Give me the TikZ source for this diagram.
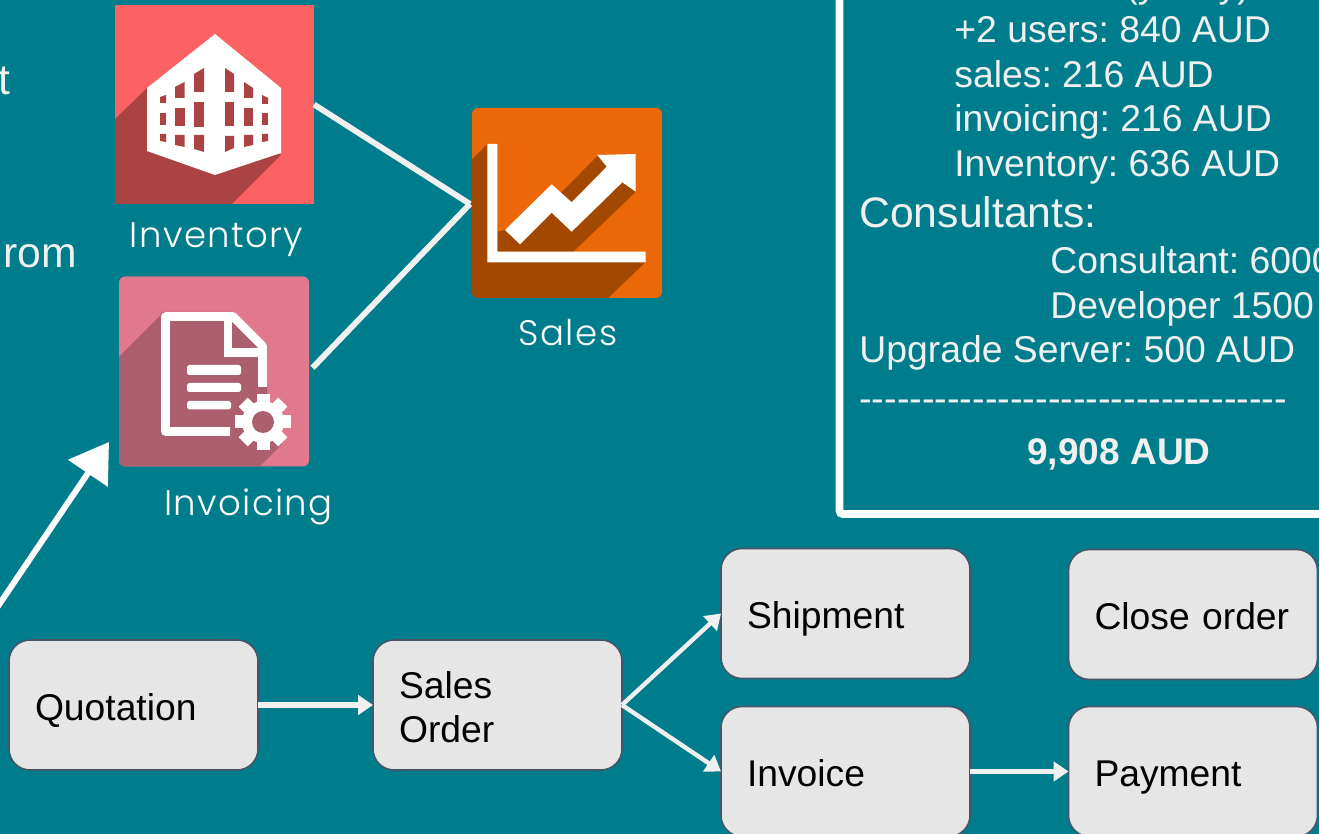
\documentclass[tikz,border=0pt]{standalone}
\usepackage{fontspec}
\usetikzlibrary{arrows.meta}
\usetikzlibrary{positioning}
\newfontfamily\arialFont{Liberation Sans}
\newfontfamily\iconFont[LetterSpace=4]{Poppins Light}
\definecolor{tealBack}{RGB}{0,125,140}
\definecolor{lineColor}{RGB}{240,240,240}
\definecolor{boxColor}{RGB}{230,230,230}
\definecolor{boxEdge}{RGB}{72,84,104}
\definecolor{inventoryColor}{RGB}{252,98,99}
\definecolor{inventoryShade}{RGB}{171,67,66}
\definecolor{invoicingColor}{RGB}{224,120,142}
\definecolor{invoicingShade}{RGB}{171,95,111}
\definecolor{salesColor}{RGB}{234,104,7}
\definecolor{salesShade}{RGB}{163,72,0}
\newcommand{\px}{0.02cm}
\tikzset{flowbox/.style = {draw=boxEdge, line width=0.9pt, fill=boxColor, rounded corners=0.42cm, inner xsep=0.52cm, inner ysep=0pt, outer sep=0pt, text width=3.94cm, minimum height=2.6cm, align=left, text height=22.3pt, text depth=4.7pt, font=\arialFont\fontsize{21.2}{25.3}\selectfont, text=black}}
\tikzset{flowarrow/.style = {draw=lineColor, line width=3pt, -{Triangle[length=8.5pt,width=11pt]}}}
\tikzset{iconline/.style = {draw=lineColor, line width=3.3pt}}
\tikzset{iconbox/.style = {inner sep=0pt, outer sep=0pt, minimum size=#1*\px}}
\tikzset{iconlabel/.style = {anchor=base, text=white, inner sep=0pt, font=\iconFont\fontsize{20.2}{24}\selectfont}}
\tikzset{paneltext/.style = {anchor=base west, inner sep=0pt, text=lineColor, font=\arialFont\fontsize{21.25}{25.3}\selectfont}}
\tikzset{bigtext/.style = {anchor=base west, inner sep=0pt, text=lineColor, font=\arialFont\fontsize{24.3}{29}\selectfont}}
\begin{document}
\frenchspacing
\begin{tikzpicture}[x=0.02cm,y=-0.02cm]
    \useasboundingbox (0,0) rectangle (1319,834);
    \clip (0,0) rectangle (1319,834);
    \fill[tealBack] (0,0) rectangle (1319,834);

    % text cut off at the left
    \node[bigtext] (leftA) at (-2,95) {t};
    \node[bigtext] (leftB) at (3,268) {rom};

    % inventory icon
    \node[iconbox=199, fill=inventoryColor] (inventory) at (214.5,104.5) {};
    \fill[inventoryShade] (147,88) -- (115,119) -- (115,204) -- (232,204) -- (281,155) -- cycle;
    \fill[white] (215,34) -- (281,88) -- (281,153) -- (215,175) -- (147,151) -- (147,88) -- cycle;
    \foreach \xa/\xb/\ya/\yb/\yc/\yd in {160/166/97/95/103/103, 160/166/113/113/125/125, 160/166/134/134/141/142,
        175/184.5/87/82/98/98, 175/184.5/108/108/126/126, 175/184.5/135/135/145/147,
        194/204/74/68/92/92, 194/204/102/102/127/127, 194/204/135/135/149/152,
        225/234/68/74/92/92, 225/234/102/102/126/126, 225/234/136/136/152/148,
        244/253/82/88/98/98, 244/253/108/108/126/126, 244/253/135/135/147/145,
        262/268/95/98/104/104, 262/268/113/113/125/125, 262/268/134/134/142/141}
        \fill[inventoryShade] (\xa,\ya) -- (\xb,\yb) -- (\xb,\yd) -- (\xa,\yc) -- cycle;
    \node[iconlabel] (inventoryLabel) at (216.5,248) {Inventory};

    % invoicing icon
    \node[iconbox=190, fill=invoicingColor, rounded corners=0.12cm] (invoicing) at (214,371.5) {};
    \begin{scope}
        \clip[rounded corners=0.12cm] (119,276.5) rectangle (309,466.5);
        \fill[invoicingShade] (161,315) -- (119,357) -- (119,467) -- (259,467) -- (282,444) -- (267,392) -- (267,346) -- (233,312) -- (161,312) -- cycle;
    \end{scope}
    \draw[white, line width=5pt, line join=round] (230,431.5) -- (165.5,431.5) -- (165.5,316.5) -- (233,316.5) -- (262.5,346) -- (262.5,387);
    \draw[white, line width=5pt] (228,316.5) -- (228,352.5) -- (262.5,352.5);
    \fill[white, rounded corners=1pt] (187,365) rectangle (241,375);
    \fill[white, rounded corners=1pt] (187,383) rectangle (241,392);
    \fill[white, rounded corners=1pt] (187,401) rectangle (231,409.5);
    \foreach \a in {0,45,...,315}
        \fill[white, rotate around={\a:(263,422)}] (256.5,394) rectangle (269.5,410);
    \fill[white] (263,422) circle (21);
    \fill[invoicingShade] (263,422) circle (11);
    \node[iconlabel] (invoicingLabel) at (248.5,516) {Invoicing};

    % sales icon
    \node[iconbox=190, fill=salesColor, rounded corners=0.12cm] (sales) at (567,203) {};
    \begin{scope}
        \clip[rounded corners=0.12cm] (472,108) rectangle (662,298);
        \fill[salesShade] (487.5,144) -- (472,159) -- (472,298) -- (608,298) -- (645.7,262) -- (497,262) -- cycle;
    \end{scope}
    \fill[salesShade] (497.3,231.7) -- (505,230) -- (551.7,195) -- (561.7,192) -- (598.3,155) -- (635.7,191.7) -- (573.3,251.7) -- (497.3,251.7) -- cycle;
    \fill[white] (505,230) -- (551.7,184.3) -- (571.7,202.3) -- (606.7,166.7) -- (597.3,155) -- (635.7,154) -- (635.7,191.7) -- (622.3,182.3) -- (571.7,231.7) -- (551.7,212.7) -- (520,244.3) -- cycle;
    \fill[white] (487.3,144) -- (497.3,144) -- (497.3,251.7) -- (645.7,251.7) -- (645.7,262.3) -- (487.3,262.3) -- cycle;
    \node[iconlabel] (salesLabel) at (568,346) {Sales};

    \coordinate (meet) at (470,204);
    \draw[iconline] (inventory.east) -- (meet);
    \draw[iconline, shorten <=0.1cm] (invoicing.east) -- (meet);

    % arrow coming in from the left edge
    \coordinate (tailIn) at (-10,618);
    \coordinate (tipIn) at (109,442);
    \draw[white, line width=3.4pt, -{Triangle[length=21.5pt,width=26.6pt]}] (tailIn) -- (tipIn);

    % price panel
    \draw[white, line width=4.5pt, rounded corners=2pt] (839.5,-30) -- (839.5,514) -- (1350,514);
    \node[paneltext] (yearly) at (1125,-2) {(yearly)};
    \node[paneltext] (users) at (954,43) {+2 users: 840 AUD};
    \node[paneltext] (salesCost) at (954,88) {sales: 216 AUD};
    \node[paneltext] (invoicingCost) at (954,132) {invoicing: 216 AUD};
    \node[paneltext] (inventoryCost) at (954,177) {Inventory: 636 AUD};
    \node[bigtext] (consultants) at (859,228) {Consultants:};
    \node[paneltext] (consultant) at (1050,274) {Consultant: 6000};
    \node[paneltext] (developer) at (1050,318.5) {Developer 1500};
    \node[paneltext] (upgrade) at (859,363) {Upgrade Server: 500 AUD};
    \node[paneltext, font=\arialFont\fontsize{21.5}{25.3}\selectfont] (rule) at (859,412) {----------------------------------};
    \node[paneltext, font=\arialFont\bfseries\fontsize{21.1}{25.3}\selectfont] (total) at (1027,464.5) {9,908 AUD};

    % flow of documents
    \node[flowbox] (quotation) at (133.5,705) {Quotation};
    \node[flowbox, text depth=30pt] (salesOrder) at (497.5,705) {Sales\\Order};
    \node[flowbox] (shipment) at (845.5,613.5) {Shipment};
    \node[flowbox] (invoice) at (845.5,771.5) {Invoice};
    \node[flowbox] (closeOrder) at (1193,614.5) {Close order};
    \node[flowbox] (payment) at (1193,771.5) {Payment};

    \draw[flowarrow] (quotation) -- (salesOrder);
    \draw[flowarrow, line width=2.5pt] (salesOrder.east) -- (shipment.west);
    \draw[flowarrow, line width=2.5pt] (salesOrder.east) -- (invoice.west);
    \draw[flowarrow] (invoice) -- (payment);
\end{tikzpicture}
\end{document}
